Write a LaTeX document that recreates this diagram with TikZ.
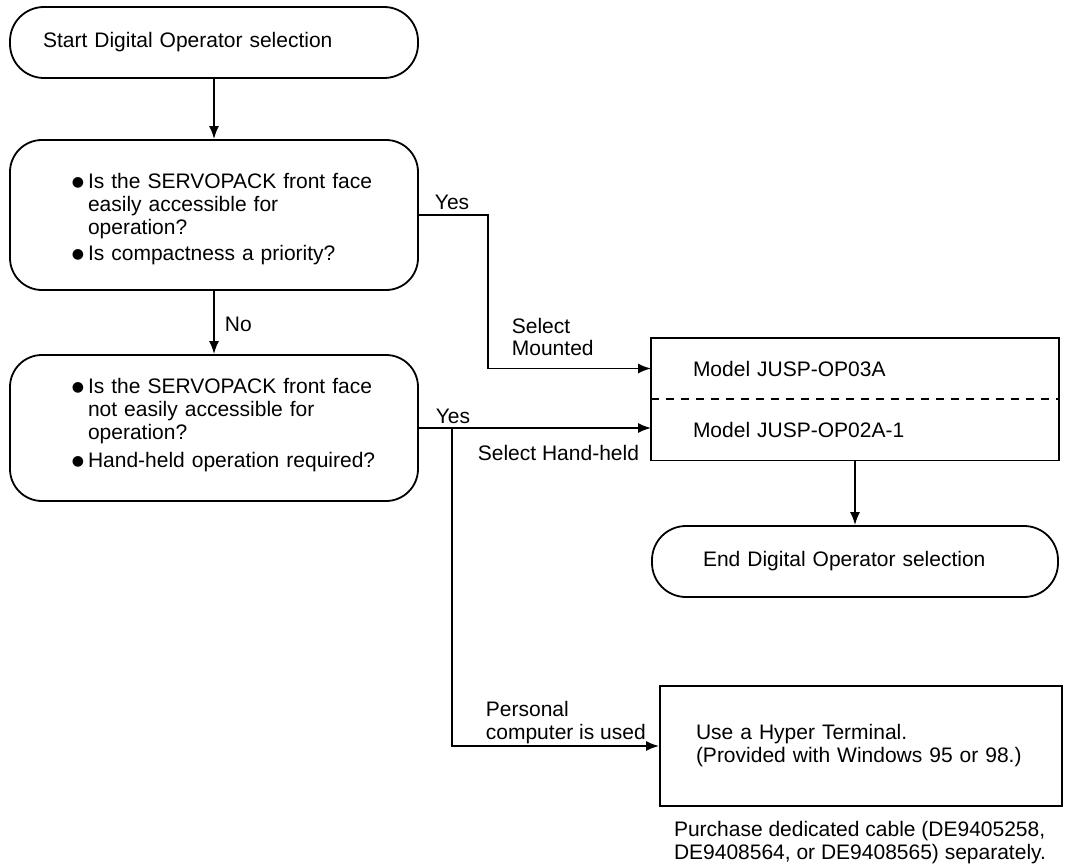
\documentclass[tikz,border=0pt]{standalone}
\usepackage{fontspec}
\setmainfont{Liberation Sans}
\newfontfamily\dotfont{DejaVu Sans}
\usetikzlibrary{arrows.meta, positioning}

\newcommand{\qitem}[1]{\par\leftskip=28pt\hangindent=16pt\hangafter=1\noindent\makebox[16pt][l]{\raisebox{1.5pt}{\dotfont\fontsize{14}{14}\selectfont ●}}#1\par}

\begin{document}
\begin{tikzpicture}[x=1pt, y=-1pt, line width=1.8pt,
    every node/.style={font=\fontsize{21}{23}\selectfont},
    terminal/.style={draw, rectangle, rounded corners=34pt, minimum width=408pt, minimum height=71pt, align=left},
    question/.style={draw, rectangle, rounded corners=32pt, minimum width=408pt, minimum height=150pt, text width=340pt, inner xsep=34pt, align=left},
    modelpart/.style={rectangle, minimum width=406pt, minimum height=59.5pt, text width=324pt, inner xsep=41pt, inner ysep=0pt, align=left},
    branchtext/.style={inner sep=0pt, align=left},
    arr/.style={-{Latex[length=13pt, width=10pt]}}]
    \useasboundingbox (0,0) rectangle (1069,864);

    \node[terminal, text width=342pt, inner xsep=33pt] (start) at (214,42.5) {Start Digital Operator selection};
    \node[question] (q1) at (214,215) {\qitem{Is the SERVOPACK front face\newline easily accessible for\newline operation?}\vspace{3pt}\qitem{Is compactness a priority?}};
    \node[question, minimum height=146pt] (q2) at (214,428) {\qitem{Is the SERVOPACK front face\newline not easily accessible for\newline operation?}\vspace{5pt}\qitem{Hand-held operation required?}\vspace{14pt}\hrule height 0pt depth 0pt};

    \node[modelpart] (mounted) at (855,368.5) {Model JUSP-OP03A};
    \node[modelpart, below=0pt of mounted] (handheld) {Model JUSP-OP02A-1};
    \draw (mounted.north west) rectangle (handheld.south east);
    \draw[dash pattern=on 8pt off 7pt] (mounted.south west) -- (mounted.south east);

    \node[terminal, minimum width=406pt, text width=304pt, inner xsep=51pt] (finish) at (855,561.5) {End Digital Operator selection};
    \node[draw, rectangle, minimum width=402pt, minimum height=120pt, text width=330pt, inner xsep=36pt, align=left] (hyper) at (861,746) {Use a Hyper Terminal.\\(Provided with Windows 95 or 98.)};
    \node[branchtext, below right=13pt and 14pt of hyper.south west] (cable) {Purchase dedicated cable (DE9405258,\\DE9408564, or DE9408565) separately.};

    % branch labels
    \node[branchtext, anchor=base west] (yes1) at (434,210) {Yes};
    \node[branchtext, anchor=base west] (no) at (224,331) {No};
    \node[branchtext, anchor=north west, font=\fontsize{21}{22}\selectfont] (mountedtext) at (511,317) {Select\\Mounted};
    \node[branchtext, anchor=base west] (yes2) at (435,423) {Yes};
    \node[branchtext, anchor=base west] (handtext) at (477,460) {Select Hand-held};
    \node[branchtext, anchor=north west] (pctext) at (485,700) {Personal\\computer is used};

    \draw[arr] (start) -- (q1);
    \draw[arr] (q1) -- (q2);
    \draw[arr] (q1.east) -- ++(69,0) |- (mounted.west);
    \draw[arr] (q2.east) -- (handheld.west |- q2.east);
    \draw[arr] (q2.east) ++(33,0) |- (hyper.west);
    \draw[arr] (handheld.south) -- (finish.north);
\end{tikzpicture}
\end{document}
